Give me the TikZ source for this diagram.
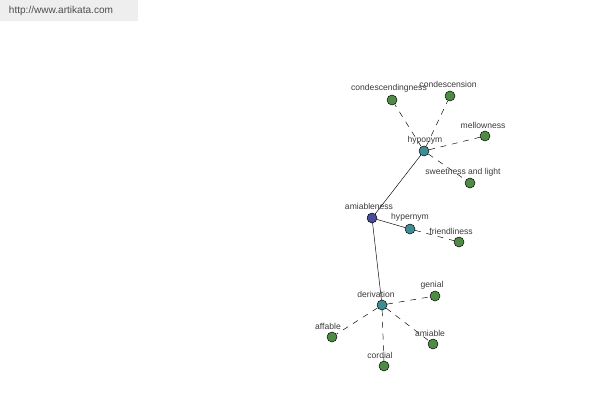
\documentclass[tikz,border=0pt]{standalone}
\usepackage{fontspec}
\setmainfont{Liberation Sans}
\definecolor{leafgreen}{HTML}{4E8B44}
\definecolor{hubteal}{HTML}{3F8C95}
\definecolor{rootblue}{HTML}{484C96}
\definecolor{labelgray}{HTML}{3A3A3A}
\definecolor{markgray}{HTML}{EEEEEE}
\begin{document}
\begin{tikzpicture}[x=0.03cm,y=-0.03cm,
  dot/.style={draw=black, circle, inner sep=0pt, minimum size=0.3cm, line width=0.4pt},
  leaf/.style={dot, fill=leafgreen},
  hub/.style={dot, fill=hubteal},
  root/.style={dot, fill=rootblue},
  lbl/.style={text=labelgray, font=\fontsize{7.3}{8}\selectfont, inner sep=0pt},
  rel/.style={dash pattern=on 5pt off 5pt, line width=0.4pt},
  link/.style={line width=0.4pt}]
\useasboundingbox (0,0) rectangle (600,400);
\fill[markgray] (0,0) rectangle (138,21);
\node[text=labelgray!90, font=\fontsize{8.6}{10}\selectfont, inner sep=0pt] (mark) at (61,11) {http://www.artikata.com};
% hubs
\node[root] (amiab) at (372,218) {};
\node[hub] (hypo) at (424,151) {};
\node[hub] (hyper) at (410,229) {};
\node[hub] (deriv) at (382,305) {};
% leaves
\node[leaf] (condg) at (392,100) {};
\node[leaf] (conds) at (450,96) {};
\node[leaf] (mellow) at (485,136) {};
\node[leaf] (sweet) at (470,183) {};
\node[leaf] (friend) at (459,242) {};
\node[leaf] (genial) at (435,296) {};
\node[leaf] (affable) at (332,337) {};
\node[leaf] (amiable) at (433,344) {};
\node[leaf] (cordial) at (384,366) {};
% connectors
\draw[link] (amiab) -- (hypo);
\draw[link] (amiab) -- (hyper);
\draw[link] (amiab) -- (deriv);
\draw[rel] (hypo) -- (condg);
\draw[rel] (hypo) -- (conds);
\draw[rel] (hypo) -- (mellow);
\draw[rel] (hypo) -- (sweet);
\draw[rel] (hyper) -- (friend);
\draw[rel] (deriv) -- (genial);
\draw[rel] (deriv) -- (affable);
\draw[rel] (deriv) -- (amiable);
\draw[rel] (deriv) -- (cordial);
% labels
\node[lbl] (amiabL) at (369,206) {amiableness};
\node[lbl] (hypoL) at (425,140) {hyponym};
\node[lbl] (hyperL) at (410,217) {hypernym};
\node[lbl] (derivL) at (376,294) {derivation};
\node[lbl] (condgL) at (389,88) {condescendingness};
\node[lbl] (condsL) at (448,84) {condescension};
\node[lbl] (mellowL) at (483,125) {mellowness};
\node[lbl] (sweetL) at (463,172) {sweetness and light};
\node[lbl] (friendL) at (451,231) {friendliness};
\node[lbl] (genialL) at (432,285) {genial};
\node[lbl] (affableL) at (328,326) {affable};
\node[lbl] (amiableL) at (430,333) {amiable};
\node[lbl] (cordialL) at (380,355) {cordial};
\end{tikzpicture}
\end{document}
